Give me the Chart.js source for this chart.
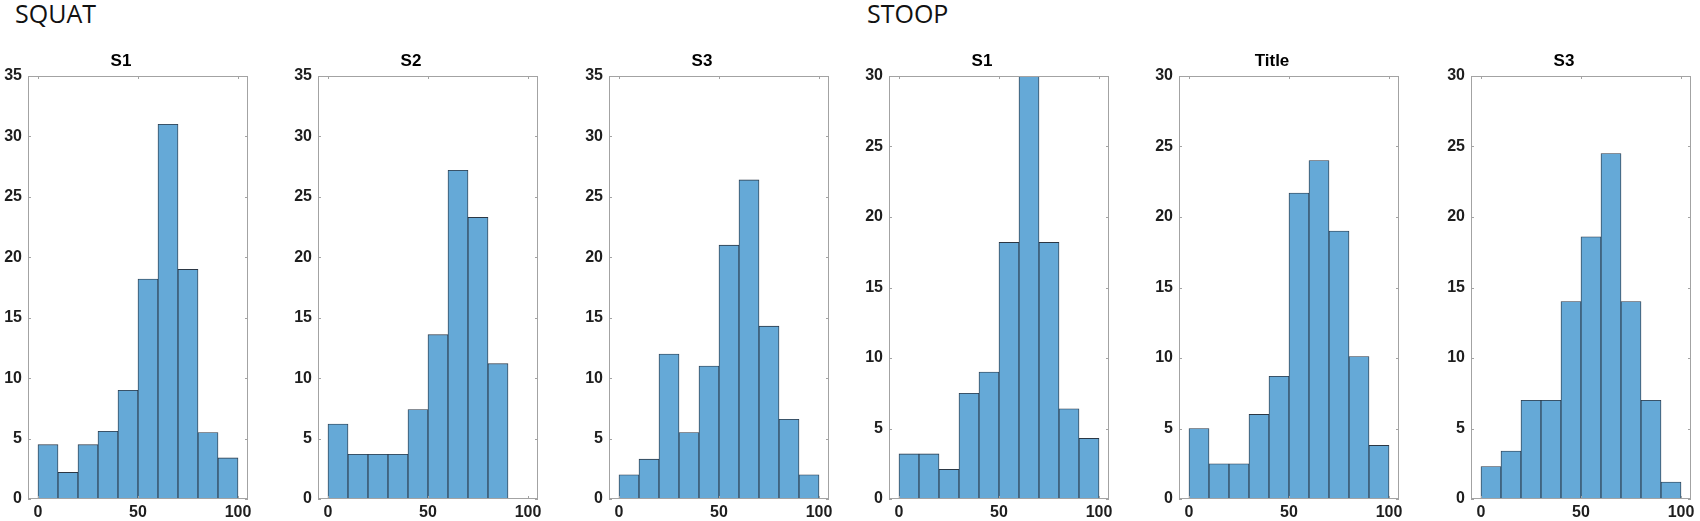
<!DOCTYPE html>
<html>
<head>
<meta charset="utf-8">
<script src="https://cdn.jsdelivr.net/npm/chart.js@4.4.1/dist/chart.umd.min.js"></script>
<style>
  html, body { margin: 0; padding: 0; background: #fff; }
  #page { position: relative; width: 1700px; height: 521px; overflow: hidden; }
  .group { position: absolute; top: 1px; font-family: 'Open Sans', sans-serif; font-size: 25px; line-height: 1; color: #111; }
  .panel { position: absolute; top: 36px; }
</style>
</head>
<body>
<div id="page">
  <div class="group" style="left:15px">SQUAT</div>
  <div class="group" style="left:867px">STOOP</div>
</div>
<script>
// histogram bins (centres of the 10-wide bins) and counts
const binCenters = [5, 15, 25, 35, 45, 55, 65, 75, 85, 95];
const xTickValues = [0, 50, 100];

const squatS1 = [4.5, 2.2, 4.5, 5.6, 9, 18.2, 31, 19, 5.5, 3.4];
const squatS2 = [6.2, 3.7, 3.7, 3.7, 7.4, 13.6, 27.2, 23.3, 11.2, 0];
const squatS3 = [2, 3.3, 12, 5.5, 11, 21, 26.4, 14.3, 6.6, 2];
const stoopS1 = [3.2, 3.2, 2.1, 7.5, 9, 18.2, 30, 18.2, 6.4, 4.3];
const stoopTitle = [5, 2.5, 2.5, 6, 8.7, 21.7, 24, 19, 10.1, 3.8];
const stoopS3 = [2.3, 3.4, 7, 7, 14, 18.6, 24.5, 14, 7, 1.2];

const panelTitles = ['S1', 'S2', 'S3', 'S1', 'Title', 'S3'];
const panelSeries = [squatS1, squatS2, squatS3, stoopS1, stoopTitle, stoopS3];
const panelYMax = [35, 35, 35, 30, 30, 30];

// left edge of each plot box on the page
const panelLefts = [28, 318, 609, 889, 1179, 1471];
const AXIS_W = 34;
const PLOT_W = 220;
const CANVAS_W = 268;
const CANVAS_H = 485;

const FONT = "'Liberation Sans', Arial, sans-serif";
const BOX_COLOR = '#a3a3a3';

// matlab style box with inward ticks on all four sides
const boxTicks = {
  id: 'boxTicks',
  afterDatasetsDraw(chart) {
    const { ctx, chartArea: a, scales: { x, y } } = chart;
    ctx.save();
    ctx.strokeStyle = BOX_COLOR;
    ctx.lineWidth = 1;
    ctx.beginPath();
    x.ticks.forEach(({ value }) => {
      const px = Math.round(x.getPixelForValue(value)) + 0.5;
      ctx.moveTo(px, a.bottom); ctx.lineTo(px, a.bottom - 3);
      ctx.moveTo(px, a.top); ctx.lineTo(px, a.top + 3);
    });
    y.ticks.forEach(({ value }) => {
      const py = Math.round(y.getPixelForValue(value)) + 0.5;
      ctx.moveTo(a.left, py); ctx.lineTo(a.left + 3, py);
      ctx.moveTo(a.right, py); ctx.lineTo(a.right - 3, py);
    });
    ctx.stroke();
    ctx.strokeRect(Math.round(a.left) + 0.5, Math.round(a.top) + 0.5,
      Math.round(a.width) - 1, Math.round(a.height) - 1);
    ctx.restore();
  }
};

function makeHistConfig(title, counts, yMax) {
  return {
    type: 'bar',
    data: {
      datasets: [{
        data: binCenters.map((c, i) => ({ x: c, y: counts[i] })),
        backgroundColor: '#65a9d7',
        borderColor: 'rgba(25,38,52,0.92)',
        borderWidth: 0.85,
        borderSkipped: false,
        barPercentage: 1,
        categoryPercentage: 1
      }]
    },
    options: {
      responsive: false,
      animation: false,
      events: [],
      layout: { padding: { left: 0, right: CANVAS_W - AXIS_W - PLOT_W, top: 0, bottom: 0 } },
      plugins: {
        legend: { display: false },
        tooltip: { enabled: false },
        title: {
          display: true,
          text: title,
          color: '#000',
          font: { family: FONT, size: 17, weight: 'bold' },
          padding: { top: 15, bottom: 4.6 }
        }
      },
      scales: {
        x: {
          type: 'linear',
          min: -5,
          max: 105,
          offset: false,
          grid: { display: false, drawTicks: false },
          border: { display: false },
          afterBuildTicks: (scale) => { scale.ticks = xTickValues.map((v) => ({ value: v })); },
          afterFit: (scale) => { scale.height = 22; scale.paddingLeft = 0; scale.paddingRight = 0; },
          ticks: { color: '#1e1e1e', padding: 4, maxRotation: 0, font: { family: FONT, size: 16, weight: 'bold' } }
        },
        y: {
          min: 0,
          max: yMax,
          grid: { display: false, drawTicks: false },
          border: { display: false },
          afterFit: (scale) => { scale.width = AXIS_W; scale.paddingTop = 0; scale.paddingBottom = 0; },
          ticks: { stepSize: 5, color: '#1e1e1e', padding: 6, font: { family: FONT, size: 16, weight: 'bold' } }
        }
      }
    },
    plugins: [boxTicks]
  };
}

const page = document.getElementById('page');
panelSeries.forEach((counts, i) => {
  const canvas = document.createElement('canvas');
  canvas.className = 'panel';
  canvas.width = CANVAS_W;
  canvas.height = CANVAS_H;
  canvas.style.left = (panelLefts[i] - AXIS_W) + 'px';
  page.appendChild(canvas);
  new Chart(canvas.getContext('2d'), makeHistConfig(panelTitles[i], counts, panelYMax[i]));
});
</script>
</body>
</html>
